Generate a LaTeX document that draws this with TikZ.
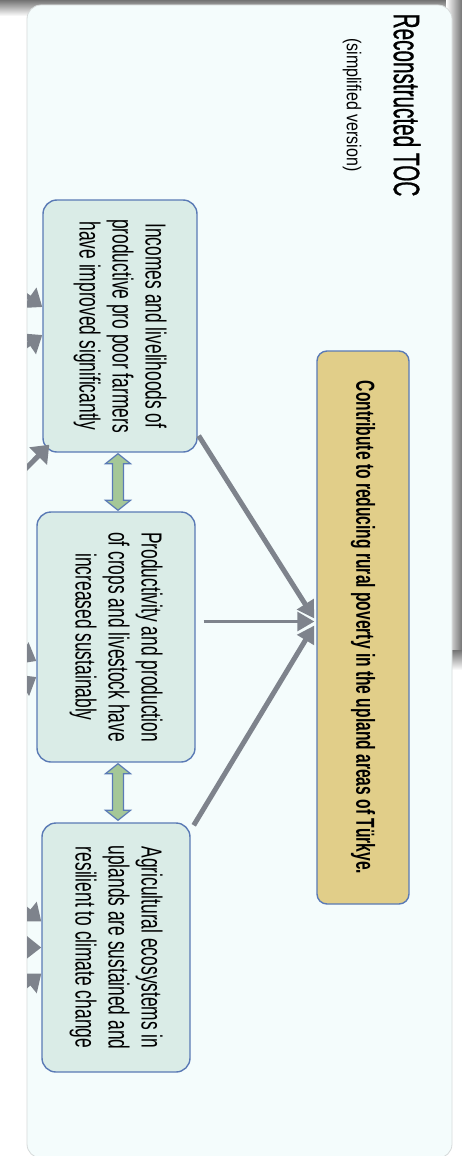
\documentclass[tikz,border=0pt]{standalone}
\usepackage{fontspec}
\setmainfont{Liberation Sans}
\newfontfamily\narrowfont[FakeStretch=0.6]{Liberation Sans}
\newfontfamily\titlefont[FakeStretch=0.56,FakeBold=0.6]{Liberation Sans}
\newfontfamily\subfont[FakeStretch=0.8]{Liberation Sans}
\usetikzlibrary{calc,arrows.meta}
\definecolor{panelfill}{HTML}{F4FCFC}
\definecolor{panelline}{HTML}{D6DADA}
\definecolor{boxfill}{HTML}{DAECE7}
\definecolor{boxline}{HTML}{5A7AB5}
\definecolor{goalfill}{HTML}{E1CE89}
\definecolor{arrowgray}{HTML}{7E838C}
\definecolor{linkgreen}{HTML}{A5C797}
\tikzset{
  outcome/.style={draw=boxline, line width=1.4pt, fill=boxfill, rounded corners=14pt,
    rotate=-90, align=center, inner sep=0pt,
    font=\narrowfont\fontsize{29}{33}\selectfont},
  goalbox/.style={draw=boxline, line width=1.4pt, fill=goalfill, rounded corners=10pt,
    rotate=-90, align=center, inner sep=0pt,
    font=\narrowfont\bfseries\fontsize{26}{30}\selectfont},
  mainarrow/.style={draw=arrowgray, -{Triangle[length=17pt,width=19pt]}},
  sidearrow/.style={draw=arrowgray, line width=5pt, -{Triangle[length=16pt,width=24pt]}},
  link/.style={draw=boxline, line width=1.2pt, fill=linkgreen, line join=miter},
}
\begin{document}
\begin{tikzpicture}[x=1pt,y=-1pt]
\useasboundingbox (0,0) rectangle (462,1156);
\fill[white] (0,0) rectangle (462,1156);
% shadows
\shade[top color=black!55, bottom color=white] (0,0) rectangle (462,16);
\shade[left color=white, right color=black!55] (446,0) rectangle (462,650);
\shade[top color=black!55, bottom color=white] (452,650) rectangle (462,670);
% panel
\draw[draw=panelline, fill=panelfill, rounded corners=14pt, line width=0.8pt]
  (27,5) rectangle (452,1158);

% title
\node[rotate=-90, font=\titlefont\fontsize{37}{40}\selectfont] (title) at (407,105) {Reconstructed TOC};
\node[rotate=-90, font=\subfont\fontsize{20}{24}\selectfont] (subtitle) at (352,105) {(simplified version)};

% outcome boxes
\node[outcome, minimum width=252pt, minimum height=154pt] (box1) at (120,326)
  {Incomes and livelihoods of\\productive pro poor farmers\\have improved significantly};
\node[outcome, minimum width=250pt, minimum height=158pt] (box2) at (116,637)
  {Productivity and production\\of crops and livestock have\\increased sustainably};
\node[outcome, minimum width=249pt, minimum height=148pt] (box3) at (116,947.5)
  {Agricultural ecosystems in\\uplands are sustained and\\resilient to climate change};

% goal
\node[goalbox, minimum width=553pt, minimum height=92pt] (goal) at (363,627.5)
  {Contribute to reducing rural poverty in the upland areas of T\"urkye.};

% double block arrows between outcomes
\coordinate (t1) at ($(box1.east)+(-2,1)$);
\coordinate (b1) at ($(box2.west)+(2,-1)$);
\coordinate (b1x) at (t1 |- b1);
\draw[link] (t1) -- ++(12.5,10) -- ++(-7,0) -- ($(b1x)+(5.5,-10)$) -- ++(7,0)
  -- (b1x) -- ++(-12.5,-10) -- ++(7,0) -- ($(t1)+(-5.5,10)$) -- ++(-7,0) -- cycle;
\coordinate (t2) at ($(box2.east)+(2,1)$);
\coordinate (b2) at ($(box3.west)+(2,-2)$);
\coordinate (b2x) at (t2 |- b2);
\draw[link] (t2) -- ++(12.5,10) -- ++(-7,0) -- ($(b2x)+(5.5,-10)$) -- ++(7,0)
  -- (b2x) -- ++(-12.5,-10) -- ++(7,0) -- ($(t2)+(-5.5,10)$) -- ++(-7,0) -- cycle;

% arrows to goal
\coordinate (hub) at ($(goal.south)+(-2,-6)$);
\coordinate (hubup) at ($(hub)+(0,-3)$);
\coordinate (hubdown) at ($(hub)+(0,4)$);
\coordinate (s1) at ($(box1.north east)+(1,-17)$);
\coordinate (s2) at ($(box2.north)+(8,0)$);
\coordinate (s3) at ($(box3.north west)+(3,3)$);
\draw[mainarrow, line width=5pt] (s1) -- (hubup);
\draw[mainarrow, line width=3pt] (s2 |- hub) -- (hub);
\draw[mainarrow, line width=5pt] (s3) -- (hubdown);

% incoming arrows from outside the panel (clipped)
\begin{scope}
\clip (27,5) rectangle (452,1156);
\coordinate (o1) at (-10,270);
\coordinate (o2) at (-10,370);
\coordinate (o3) at (-5,500);
\coordinate (o4) at (-10,635);
\coordinate (o5) at (-10,705);
\coordinate (o6) at (-10,880);
\coordinate (o7) at (-15,947);
\coordinate (o8) at (-10,1015);
\draw[sidearrow] (o1) -- ($(box1.south)+(0,-19)$);
\draw[sidearrow] (o2) -- ($(box1.south)+(0,9)$);
\draw[sidearrow] (o3) -- ($(box1.south east)+(7,-8)$);
\draw[sidearrow] (o4) -- ($(box2.south)+(0,24)$);
\draw[sidearrow] (o5) -- ($(box2.south)+(0,40)$);
\draw[sidearrow] (o6) -- ($(box3.south)+(0,-26)$);
\draw[sidearrow] (o7) -- ($(box3.south)+(0,0)$);
\draw[sidearrow] (o8) -- ($(box3.south)+(0,26)$);
\end{scope}
\end{tikzpicture}
\end{document}
